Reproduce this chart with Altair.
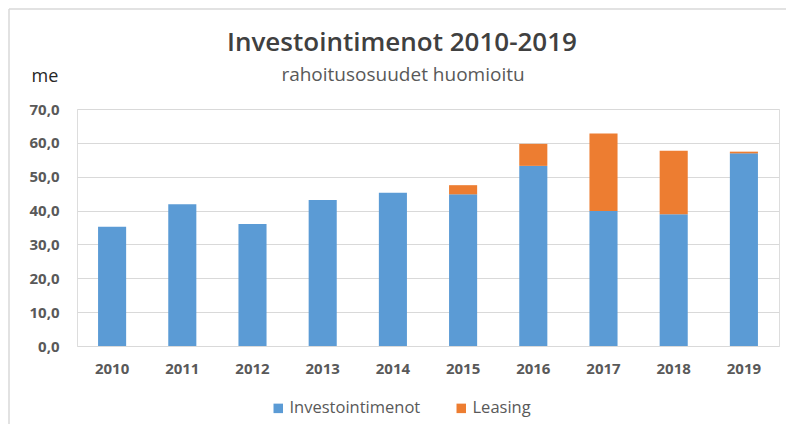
import altair as alt
import pandas as pd

years = ["2010", "2011", "2012", "2013", "2014", "2015", "2016", "2017", "2018", "2019"]
investointimenot = [35.2, 41.9, 36.0, 43.1, 45.3, 44.8, 53.2, 39.9, 38.9, 56.9]
leasing = [0.0, 0.0, 0.0, 0.0, 0.0, 2.7, 6.5, 22.9, 18.8, 0.5]
series = ["Investointimenot", "Leasing"]
colors = ["#5B9BD5", "#ED7D31"]
title_text = "Investointimenot 2010-2019"
subtitle_text = "rahoitusosuudet huomioitu"
unit_text = "me"

rows = []
for i, y in enumerate(years):
    rows.append({"year": y, "series": series[0], "value": investointimenot[i], "ord": 0})
    rows.append({"year": y, "series": series[1], "value": leasing[i], "ord": 1})
df = pd.DataFrame(rows)

FONT = "Open Sans"

bars = alt.Chart(df).mark_bar().encode(
    x=alt.X("year:N", sort=years,
            scale=alt.Scale(paddingInner=0.6, paddingOuter=0.3),
            axis=alt.Axis(title=None, labelAngle=0, ticks=False, domain=False,
                          labelPadding=15, labelFontSize=15, labelFontWeight="bold",
                          labelColor="#595959", labelFont=FONT, grid=False)),
    y=alt.Y("value:Q", stack="zero",
            scale=alt.Scale(domain=[0, 70], nice=False),
            axis=alt.Axis(title=None, values=[0, 10, 20, 30, 40, 50, 60, 70],
                          labelExpr="replace(format(datum.value, '.1f'), '.', ',')",
                          ticks=False, domain=False, labelPadding=18,
                          labelFontSize=15, labelFontWeight="bold",
                          labelColor="#595959", labelFont=FONT,
                          gridColor="#D9D9D9", gridWidth=1.2)),
    color=alt.Color("series:N", sort=series,
                    scale=alt.Scale(domain=series, range=colors),
                    legend=alt.Legend(title=None, orient="none", direction="horizontal",
                                      legendX=193, legendY=291, symbolType="square",
                                      symbolSize=90, symbolStrokeWidth=0,
                                      labelFontSize=16.5, labelColor="#595959",
                                      labelFontWeight=500,
                                      labelFont=FONT, columnPadding=32, labelOffset=3)),
    order=alt.Order("ord:Q", sort="ascending"),
)

one = pd.DataFrame({"k": [0]})
frame_top = alt.Chart(one).mark_rule(color="#D9D9D9", strokeWidth=1.5).encode(
    x=alt.value(-68), x2=alt.value(720), y=alt.value(-100)
)
frame_left = alt.Chart(one).mark_rule(color="#D9D9D9", strokeWidth=1.5).encode(
    x=alt.value(-68), y=alt.value(-100), y2=alt.value(330)
)
title = alt.Chart(one).mark_text(text=title_text, fontSize=26, font=FONT, fontWeight=600,
                                 color="#404040", align="center", baseline="middle").encode(
    x=alt.value(325), y=alt.value(-66)
)
subtitle = alt.Chart(one).mark_text(text=subtitle_text, fontSize=19, font=FONT,
                                    color="#595959", align="center", baseline="middle").encode(
    x=alt.value(326), y=alt.value(-34)
)
me = alt.Chart(one).mark_text(text=unit_text, fontSize=18, font=FONT, color="#262626",
                              align="center", baseline="middle").encode(
    x=alt.value(-32), y=alt.value(-32)
)

chart = alt.layer(frame_top, frame_left, bars, title, subtitle, me).properties(
    width=702, height=237,
    autosize=alt.AutoSizeParams(type="none"),
    padding={"left": 69, "top": 101, "right": 7, "bottom": 78},
).configure_view(stroke=None).configure(background="white")

chart.save("out.html", embed_options={"renderer": "svg", "actions": False})
